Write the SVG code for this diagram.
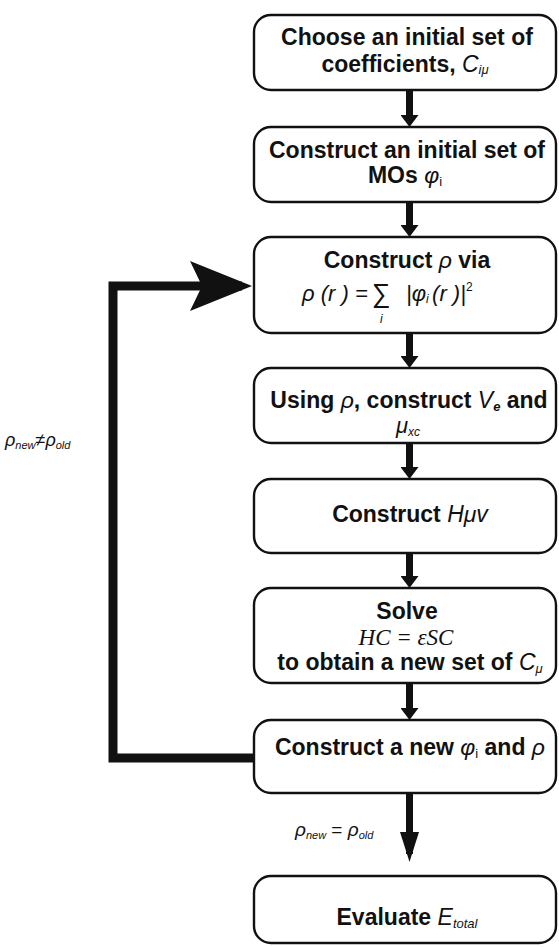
<svg xmlns="http://www.w3.org/2000/svg" width="559" height="947" viewBox="0 0 559 947">
<style>
.box{fill:#fff;stroke:#111;stroke-width:2.4}
.t{font-family:"Liberation Sans",Arial,sans-serif;font-weight:bold;font-size:23px;fill:#111;text-anchor:middle}
.i{font-style:italic}
.s{font-size:13px}
.m{font-family:"Liberation Sans",Arial,sans-serif;font-style:italic;fill:#111}
.serif{font-family:"Liberation Serif","Times New Roman",serif;font-style:italic;font-size:23px;fill:#111;text-anchor:middle}
.sh{stroke:#111;stroke-width:7;fill:none}
.loop{stroke:#111;stroke-width:9;fill:none;stroke-linejoin:miter}
</style>
<defs>
<marker id="ah" markerUnits="userSpaceOnUse" viewBox="0 0 12 18" markerWidth="12" markerHeight="18" refX="4" refY="9" orient="auto">
<path d="M0,0 L12,9 L0,18 z" fill="#111"/>
</marker>
<marker id="ahb" markerUnits="userSpaceOnUse" viewBox="0 0 30 19" markerWidth="30" markerHeight="19" refX="22" refY="9.5" orient="auto">
<path d="M0,0 L30,9.5 L0,19 z" fill="#111"/>
</marker>
<marker id="ahl" markerUnits="userSpaceOnUse" viewBox="0 0 62 50" markerWidth="62" markerHeight="50" refX="52" refY="25" orient="auto">
<path d="M0,0 L62,25 L0,50 L12,25 z" fill="#111"/>
</marker>
</defs>

<g id="connectors">
<line class="sh" x1="409.5" y1="90" x2="409.5" y2="119" marker-end="url(#ah)"/>
<line class="sh" x1="409.5" y1="202" x2="409.5" y2="229" marker-end="url(#ah)"/>
<line class="sh" x1="409.5" y1="333" x2="409.5" y2="360" marker-end="url(#ah)"/>
<line class="sh" x1="409.5" y1="443" x2="409.5" y2="471" marker-end="url(#ah)"/>
<line class="sh" x1="409.5" y1="553" x2="409.5" y2="580" marker-end="url(#ah)"/>
<line class="sh" x1="409.5" y1="683" x2="409.5" y2="712" marker-end="url(#ah)"/>
<line class="sh" x1="409.5" y1="793" x2="409.5" y2="854" marker-end="url(#ahb)"/>
<polyline class="loop" points="253,758 113,758 113,286 242,286" marker-end="url(#ahl)"/>
<text class="m" x="5" y="446" font-size="18">ρ<tspan font-size="11" dy="3">new</tspan><tspan dy="-3" font-style="normal">≠</tspan>ρ<tspan font-size="11" dy="3">old</tspan></text>
<text class="m" x="295" y="836" font-size="19">ρ<tspan font-size="11" dy="3">new</tspan><tspan dy="-3" font-style="normal"> = </tspan>ρ<tspan font-size="11" dy="3">old</tspan></text>
</g>

<g id="n1">
<rect class="box" x="254" y="15" width="302" height="75" rx="17"/>
<text class="t" x="407" y="45">Choose an initial set of</text>
<text class="t" x="405" y="72">coefficients, <tspan class="i" font-weight="normal">C</tspan><tspan class="i s" font-weight="normal" dy="2">iμ</tspan></text>
</g>

<g id="n2">
<rect class="box" x="254" y="127" width="302" height="75" rx="17"/>
<text class="t" x="407" y="158">Construct an initial set of</text>
<text class="t" x="405" y="183">MOs <tspan class="i" font-weight="normal">φ</tspan><tspan class="s" font-weight="normal" dy="3">i</tspan></text>
</g>

<g id="n3">
<rect class="box" x="254" y="237" width="302" height="96" rx="17"/>
<text class="t" x="407" y="268">Construct <tspan class="i" font-weight="normal">ρ</tspan> via</text>
<text class="m" x="302" y="301" font-size="22">ρ (r ) =</text>
<text class="m" x="371" y="302" font-size="26" font-style="normal">∑</text>
<text class="m" x="380" y="323" font-size="12">i</text>
<text class="m" x="406" y="301" font-size="22">|φ<tspan font-size="12" dy="2">i </tspan><tspan dy="-2">(r )|</tspan><tspan font-size="12" dy="-10" font-style="normal">2</tspan></text>
</g>

<g id="n4">
<rect class="box" x="254" y="368" width="302" height="75" rx="17"/>
<text class="t" x="409" y="408">Using <tspan class="i" font-weight="normal">ρ</tspan>, construct <tspan class="i" font-weight="normal">V</tspan><tspan class="s i" dy="3">e</tspan><tspan dy="-3"> and</tspan></text>
<text class="m" x="396" y="433" font-size="22">μ<tspan font-size="12" dy="3">xc</tspan></text>
</g>

<g id="n5">
<rect class="box" x="254" y="479" width="302" height="74" rx="17"/>
<text class="t" x="410" y="522">Construct <tspan class="i" font-weight="normal">Hμv</tspan></text>
</g>

<g id="n6">
<rect class="box" x="254" y="588" width="302" height="95" rx="17"/>
<text class="t" x="407" y="619">Solve</text>
<text class="serif" x="406" y="645">HC = εSC</text>
<text class="t" x="410" y="670">to obtain a new set of <tspan class="i" font-weight="normal">C</tspan><tspan class="i s" font-weight="normal" dy="3">μ</tspan></text>
</g>

<g id="n7">
<rect class="box" x="254" y="720" width="302" height="73" rx="17"/>
<text class="t" x="410" y="755">Construct a new <tspan class="i" font-weight="normal">φ</tspan><tspan class="s" font-weight="normal" dy="3">i</tspan><tspan dy="-3"> and </tspan><tspan class="i" font-weight="normal">ρ</tspan></text>
</g>

<g id="n8">
<rect class="box" x="254" y="876" width="302" height="67" rx="17"/>
<text class="t" x="407" y="925">Evaluate <tspan class="i" font-weight="normal">E</tspan><tspan class="i s" font-weight="normal" dy="3">total</tspan></text>
</g>
</svg>
